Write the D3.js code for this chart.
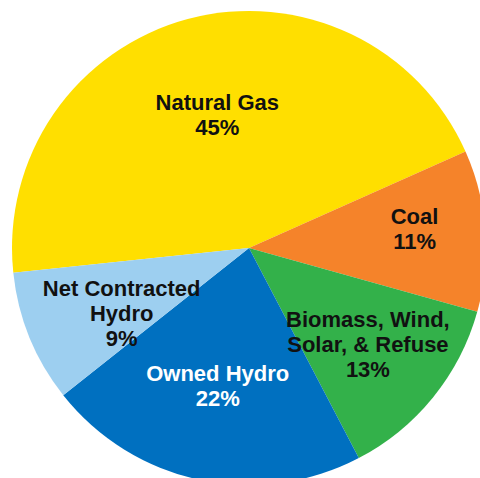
<!DOCTYPE html>
<html lang="en">
<head>
  <meta charset="UTF-8">
  <title>Energy Mix</title>
  <style>
    html, body { margin: 0; padding: 0; background: #fff; overflow: hidden; }
    text { font-family: 'Liberation Sans', Arial, sans-serif; font-weight: bold; }
  </style>
</head>
<body>
  <svg id="svg" width="480" height="478"></svg>
  <script src="https://d3js.org/d3.v7.min.js"></script>
  <script>
    // data
    const sources = ['Natural Gas', 'Coal', 'Biomass, Wind, Solar, & Refuse', 'Owned Hydro', 'Net Contracted Hydro']
    const shares = [45, 11, 13, 22, 9]
    const labelLines = [
      ['Natural Gas'],
      ['Coal'],
      ['Biomass, Wind,', 'Solar, & Refuse'],
      ['Owned Hydro'],
      ['Net Contracted', 'Hydro']
    ]
    const colors = ['#FFDF00', '#F5832A', '#33B14A', '#0070C0', '#9DCFF0']

    // layout
    const cx = 249, cy = 248, R = 237
    const lineH = 25
    // per-label radius / nudge so labels sit where the original had them
    const labelPos = {
      'Natural Gas': { r: 138, dx: 4, dy: 0 },
      'Coal': { r: 166, dx: 0, dy: -7 },
      'Biomass, Wind, Solar, & Refuse': { r: 153, dx: 0, dy: 0 },
      'Owned Hydro': { r: 141, dx: -2, dy: 0 },
      'Net Contracted Hydro': { r: 144, dx: 6, dy: 11 }
    }

    const data = sources.map((s, i) => ({ name: s, value: shares[i], lines: labelLines[i], color: colors[i] }))

    const pie = d3.pie()
      .sort(null)
      .value(d => d.value)
      .startAngle(-96 * Math.PI / 180)
      .endAngle(264 * Math.PI / 180)

    const arc = d3.arc().innerRadius(0).outerRadius(R)

    const svg = d3.select('#svg')
    const g = svg.append('g').attr('transform', `translate(${cx},${cy})`)

    const arcs = pie(data)

    g.selectAll('path')
      .data(arcs)
      .join('path')
      .attr('d', arc)
      .attr('fill', d => d.data.color)

    const labels = g.selectAll('text')
      .data(arcs)
      .join('text')
      .attr('text-anchor', 'middle')
      .attr('font-size', 22)
      .attr('fill', d => d.data.name === 'Owned Hydro' ? '#fff' : '#111')
      .attr('transform', d => {
        const p = labelPos[d.data.name]
        const c = d3.arc().innerRadius(p.r).outerRadius(p.r).centroid(d)
        return `translate(${c[0] + p.dx},${c[1] + p.dy})`
      })

    labels.each(function (d) {
      const t = d3.select(this)
      const rows = [...d.data.lines, d.data.value + '%']
      const y0 = -(rows.length - 1) * lineH / 2 + 8
      rows.forEach((r, i) => {
        t.append('tspan').attr('x', 0).attr('y', y0 + i * lineH).text(r)
      })
    })
  </script>
</body>
</html>
